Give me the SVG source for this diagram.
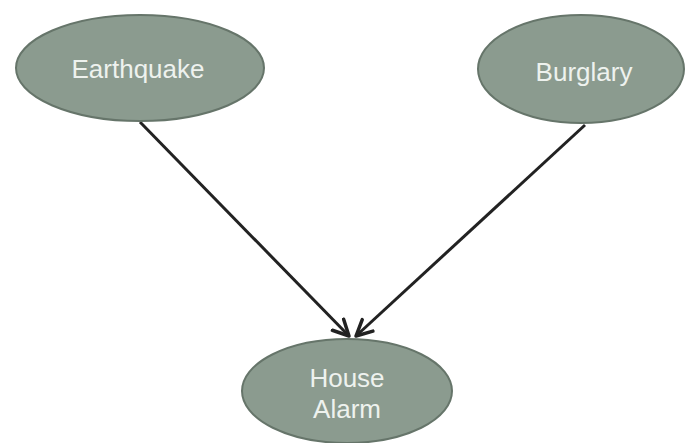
<svg xmlns="http://www.w3.org/2000/svg" width="686" height="443" viewBox="0 0 686 443">
<style>
.node ellipse{fill:#8b9b8f;stroke:#66756a;stroke-width:2}
.node text{font-family:"Liberation Sans",Arial,sans-serif;font-size:26px;fill:#eef2ee;text-anchor:middle}
.edge{stroke:#222;stroke-width:3;fill:none;marker-end:url(#arr)}
</style>
<defs>
<marker id="arr" viewBox="0 0 12 12" refX="10" refY="6" markerWidth="7" markerHeight="7" orient="auto" markerUnits="strokeWidth">
<path d="M1,1.5 L10,6 L1,10.5" fill="none" stroke="#222" stroke-width="2" stroke-linecap="round" stroke-linejoin="round"/>
</marker>
</defs>
<rect width="686" height="443" fill="#fff"/>
<g id="connectors">
<line class="edge" x1="140" y1="122" x2="349" y2="336"/>
<line class="edge" x1="585" y1="125" x2="356" y2="336"/>
</g>
<g id="earthquake" class="node">
<ellipse cx="140" cy="68" rx="124" ry="53"/>
<text x="138" y="78">Earthquake</text>
</g>
<g id="burglary" class="node">
<ellipse cx="581" cy="69" rx="103" ry="54"/>
<text x="584" y="81">Burglary</text>
</g>
<g id="house-alarm" class="node">
<ellipse cx="347" cy="391" rx="105" ry="52"/>
<text x="347" y="387">House</text>
<text x="347" y="418">Alarm</text>
</g>
</svg>
